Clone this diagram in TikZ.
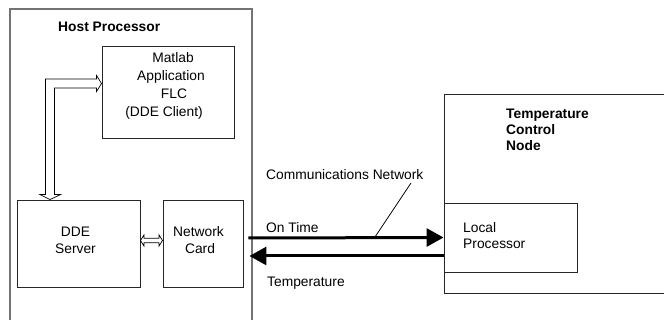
\documentclass[tikz,border=0pt]{standalone}
\usepackage{fontspec}
\setmainfont{Liberation Sans}
\usetikzlibrary{arrows.meta,calc}
\begin{document}
\begin{tikzpicture}[x=1pt,y=-1pt]
\tikzset{
  boxstyle/.style={draw=black!85, line width=0.9pt, rectangle, inner sep=0pt},
  hostbox/.style={draw=black!55, line width=1.5pt, rectangle, inner sep=0pt},
  lbl/.style={inner sep=0pt, font=\fontsize{13.8}{16}\selectfont},
  blbl/.style={inner sep=0pt, font=\fontsize{13.8}{16}\selectfont\bfseries},
  hollow/.style={draw=black, line width=0.7pt, fill=white, line join=miter},
  bigarrow/.style={line width=3pt, -{Triangle[length=17pt,width=18pt]}},
}
\useasboundingbox (0,0) rectangle (664,320);
\clip (0,0) rectangle (664,320);
\fill[white] (0,0) rectangle (664,320);

% boxes
\node[hostbox, minimum width=242pt, minimum height=322pt] (host) at (131,170) {};
\node[boxstyle, minimum width=132pt, minimum height=92pt] (matlab) at (168,92) {};
\node[boxstyle, minimum width=123pt, minimum height=87pt] (dde) at (78.5,243.5) {};
\node[boxstyle, minimum width=80pt, minimum height=87pt] (net) at (203,243.5) {};
\node[boxstyle, minimum width=236pt, minimum height=199pt] (tcn) at (562,193.5) {};
\node[boxstyle, fill=white, minimum width=133pt, minimum height=69pt] (local) at (510.5,237.5) {};

% labels
\node[blbl, anchor=base west] (hosttxt) at (58,32) {Host Processor};
\node[lbl, anchor=base] (m1) at (173,63) {Matlab};
\node[lbl, anchor=base] (m2) at (171,81) {Application};
\node[lbl, anchor=base] (m3) at (174,99) {FLC};
\node[lbl, anchor=base] (m4) at (164,117) {(DDE Client)};
\node[lbl, anchor=base] (d1) at (75.5,237) {DDE};
\node[lbl, anchor=base] (d2) at (75.5,254) {Server};
\node[lbl, anchor=base] (n1) at (198.5,237) {Network};
\node[lbl, anchor=base] (n2) at (200,254) {Card};
\node[blbl, anchor=base west] (t1) at (506,119) {Temperature};
\node[blbl, anchor=base west] (t2) at (506,135) {Control};
\node[blbl, anchor=base west] (t3) at (506,151) {Node};
\node[lbl, anchor=base west] (l1) at (463,233) {Local};
\node[lbl, anchor=base west] (l2) at (463,249) {Processor};
\node[lbl, anchor=base west] (comm) at (266,180) {Communications Network};
\node[lbl, anchor=base west] (ontime) at (266,233) {On Time};
\node[lbl, anchor=base west] (temp) at (267,287) {Temperature};

% hollow arrow DDE server <-> Matlab
\coordinate (tipA) at ($(matlab.west)+(0,-8.5)$);
\coordinate (tipB) at ($(dde.north west)+(33.5,0)$);
\draw[hollow] (tipA) -- ++(-5,8) -- ++(0,-3.5) -| ($(tipB)+(4.5,-5)$) -- ++(6,0) -- (tipB)
  -- ++(-10,-5) -- ++(5.5,0) |- ($(tipA)+(-5,-4.5)$) -- ++(0,-3.5) -- cycle;

% hollow double arrow DDE <-> Network card
\coordinate (dl) at ($(dde.east)+(0,-3)$);
\coordinate (dr) at ($(net.west)+(0,-3)$);
\draw[hollow] (dl) -- ++(3.5,-5.5) -- ++(0,3.3) -- ($(dr)+(-3.5,-2.2)$) -- ++(0,-3.3) -- (dr)
  -- ++(-3.5,5.5) -- ++(0,-3.3) -- ($(dl)+(3.5,2.2)$) -- ++(0,3.3) -- cycle;

% network arrows
\draw[bigarrow] ($(net.east)+(5,-5.5)$) -- (local.west);
\draw[bigarrow] ($(local.west)+(0,18.5)$) -- ($(net.east)+(6,12.5)$);

% leader line
\coordinate (leadtop) at (411,183);
\coordinate (leadbot) at (375,237);
\draw[line width=0.8pt] (leadtop) -- (leadbot);
\end{tikzpicture}
\end{document}
